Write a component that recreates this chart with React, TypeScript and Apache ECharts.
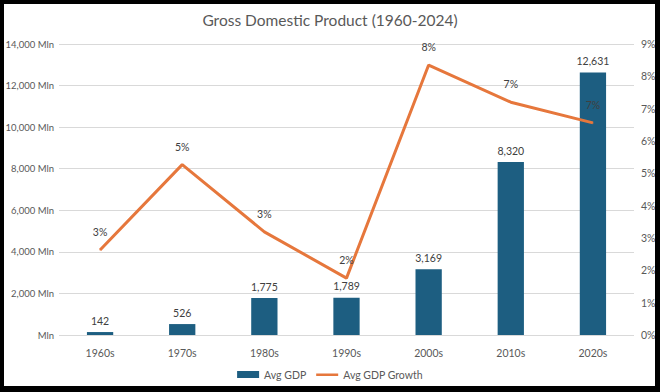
import React, { useEffect, useRef } from "react";
import * as echarts from "echarts";

const categories = ["1960s", "1970s", "1980s", "1990s", "2000s", "2010s", "2020s"];
const avgGdp = [142, 526, 1775, 1789, 3169, 8320, 12631];
const avgGrowth = [2.63, 5.27, 3.19, 1.76, 8.35, 7.2, 6.56];

const FONT = "Lato, 'Open Sans', sans-serif";
const TXT = "#595959";
const FS = 10.5;

export default function App() {
  const ref = useRef<HTMLDivElement>(null);
  useEffect(() => {
    document.body.style.margin = "0";
    const chart = echarts.init(ref.current!, undefined, { renderer: "svg" });
    chart.setOption({
      animation: false,
      backgroundColor: "#ffffff",
      textStyle: { fontFamily: FONT },
      title: {
        text: "Gross Domestic Product (1960-2024)",
        left: "center",
        top: 7,
        textStyle: { fontFamily: FONT, fontSize: 15.5, fontWeight: "normal", color: TXT },
      },
      grid: { left: 59, right: 26, top: 44, bottom: 57, outerBoundsMode: "none", containLabel: false },
      legend: {
        bottom: 7,
        left: "center",
        itemWidth: 22,
        itemHeight: 7,
        itemGap: 10,
        textStyle: { fontFamily: FONT, fontSize: FS, color: TXT },
        data: [
          { name: "Avg GDP", icon: "rect" },
          {
            name: "Avg GDP Growth",
            icon: "path://M0,0L22,0M0,2.5h22v2.5h-22zM0,7L22,7",
            itemStyle: { borderWidth: 0 },
          },
        ],
      },
      xAxis: {
        type: "category",
        data: categories,
        axisLine: { show: false },
        axisTick: { show: false },
        axisLabel: { color: TXT, fontSize: FS, margin: 12, fontFamily: FONT },
      },
      yAxis: [
        {
          type: "value",
          min: 0,
          max: 14000,
          interval: 2000,
          axisLine: { show: false },
          axisTick: { show: false },
          splitLine: { lineStyle: { color: "#d9d9d9", width: 1 } },
          axisLabel: {
            color: TXT,
            fontSize: 9.5,
            margin: 5,
            fontFamily: FONT,
            formatter: (v: number) => (v === 0 ? "Mln" : v.toLocaleString("en-US") + " Mln"),
          },
        },
        {
          type: "value",
          min: 0,
          max: 9,
          interval: 1,
          axisLine: { show: false },
          axisTick: { show: false },
          splitLine: { show: false },
          axisLabel: {
            color: TXT,
            fontSize: FS,
            margin: 7,
            fontFamily: FONT,
            formatter: (v: number) => Math.round(v) + "%",
          },
        },
      ],
      series: [
        {
          name: "Avg GDP",
          type: "bar",
          data: avgGdp,
          barWidth: "32%",
          itemStyle: { color: "#1D5E81" },
          label: {
            show: true,
            position: "top",
            distance: 6,
            color: "#404040",
            fontSize: FS,
            fontFamily: FONT,
            formatter: (p: any) => Number(p.value).toLocaleString("en-US"),
          },
        },
        {
          name: "Avg GDP Growth",
          type: "line",
          yAxisIndex: 1,
          data: avgGrowth,
          symbol: "circle",
          symbolSize: 1,
          itemStyle: { color: "#E6773C" },
          lineStyle: { color: "#E6773C", width: 3 },
          z: 3,
          label: {
            show: true,
            position: "top",
            distance: 12,
            color: "#404040",
            fontSize: FS,
            fontFamily: FONT,
            formatter: (p: any) => Math.round(p.value) + "%",
          },
        },
      ],
    });
    return () => chart.dispose();
  }, []);
  return (
    <div style={{ position: "fixed", left: 0, top: 0, width: 660, height: 392 }}>
      <div ref={ref} style={{ width: 660, height: 392 }} />
      <div
        style={{
          position: "absolute",
          left: 0,
          top: 0,
          width: 660,
          height: 392,
          boxSizing: "border-box",
          borderStyle: "solid",
          borderColor: "#000",
          borderWidth: "4px 5px 6px 4px",
          pointerEvents: "none",
        }}
      />
    </div>
  );
}
